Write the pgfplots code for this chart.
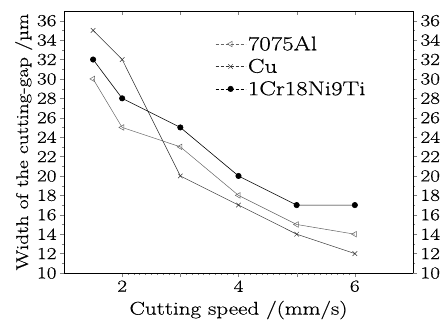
\documentclass[border=0pt]{standalone}
\usepackage{fontspec}
\setmainfont{Latin Modern Roman}[FakeStretch=1.25, FakeBold=0.6]
\usepackage{pgfplots}
\pgfplotsset{compat=1.18}
\begin{document}
\begin{tikzpicture}
\path[use as bounding box] (-64bp,-51bp) rectangle (379bp,273bp);
\pgfplotsset{
  every axis/.append style={
    at={(0,0)}, anchor=south west,
    scale only axis, width=349bp, height=262bp,
    xmin=1, xmax=7, ymin=10, ymax=37,
    /pgf/number format/assume math mode=true,
    tick label style={font=\fontsize{17}{17}\selectfont},
    label style={font=\fontsize{17}{17}\selectfont},
    major tick length=4bp, minor tick length=2bp,
  }
}
% main axis: left + bottom
\begin{axis}[
  axis x line*=bottom, axis y line*=left,
  tick align=outside,
  xtick={2,4,6}, extra x ticks={3,5}, extra x tick labels={},
  minor x tick num=19,
  minor x tick style={line width=0.3pt},
  ytick={10,12,...,36}, minor y tick num=1,
  xlabel={Cutting speed /(mm/s)},
  ylabel={Width of the cutting-gap /µm},
  xlabel style={yshift=6bp, font=\fontsize{18.5}{18.5}\selectfont},
  ylabel style={yshift=-2bp},
  legend style={at={(0.433,0.912)}, anchor=north west, draw=none, fill=none,
    font=\fontsize{20}{20}\selectfont, row sep=3bp, inner sep=0pt,
    /tikz/every even column/.append style={column sep=4bp}},
  legend cell align=left,
  legend image code/.code={
    \draw[mark repeat=2, mark phase=2, dash pattern=on 3bp off 2bp, #1]
      plot coordinates {(0bp,0bp) (15bp,0bp) (30bp,0bp)};
  },
]
\addplot[color=black!60, line width=0.5pt, mark=triangle, mark size=3.2bp, mark options={rotate=90, solid, fill=white}]
  coordinates {(1.5,30) (2,25) (3,23) (4,18) (5,15) (6,14)};
\addlegendentry{7075Al}
\addplot[color=black!80, line width=0.5pt, mark=x, mark size=3.2bp, mark options={solid}]
  coordinates {(1.5,35) (2,32) (3,20) (4,17) (5,14) (6,12)};
\addlegendentry{Cu}
\addplot[color=black, line width=0.6pt, mark=*, mark size=2.7bp, mark options={solid, fill=black}]
  coordinates {(1.5,32) (2,28) (3,25) (4,20) (5,17) (6,17)};
\addlegendentry{1Cr18Ni9Ti}
\end{axis}
% top axis, ticks inside
\begin{axis}[
  axis x line*=top, axis y line=none,
  tick align=inside,
  xtick={2,3,4,5,6}, xticklabels={},
]
\end{axis}
% right axis
\begin{axis}[
  axis y line*=right, axis x line=none,
  tick align=outside,
  ytick={10,12,...,36}, minor y tick num=1,
]
\end{axis}
\end{tikzpicture}
\end{document}
